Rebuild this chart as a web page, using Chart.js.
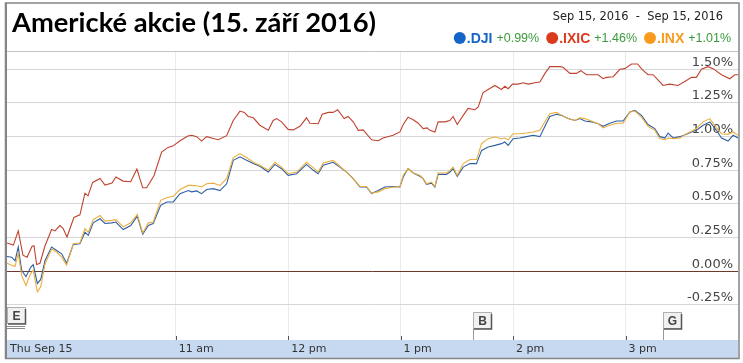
<!DOCTYPE html>
<html>
<head>
<meta charset="utf-8">
<script src="https://cdn.jsdelivr.net/npm/chart.js@4"></script>
<style>
html, body { margin: 0; padding: 0; background: #fff; }
canvas { display: block; }
</style>
</head>
<body>
<canvas id="lineChart" width="743" height="363"></canvas>
<script>
// minutes after the 9:30 open, shared by .DJI and .INX
const minutes = [
    0, 2.5, 4.3, 6, 7.8, 10.1, 12.6, 14, 16.2, 18, 20.3, 23.8, 26.5, 29.2, 31.8, 35.4, 38.9, 41.6, 43.4, 46,
    49.6, 52.3, 55.8, 58.1, 62, 66, 69.5, 72.4, 75.4, 78, 82, 85.2, 88.7, 92.3, 96.7,
    98.5, 101.2, 103.8, 106.5, 110, 113.6, 117.2, 120.7, 124.3, 127.8, 131.4, 134.9, 139.4, 142.9, 146.5,
    150, 154.5, 159.8, 163.4, 166, 168.7, 174, 177.6, 181.2, 184.7, 188.3, 191.8, 194.5,
    198, 201.6, 206, 209.6, 211.4, 214, 216.7, 220.3, 222, 223.8, 226.5, 228.3, 230, 234.5, 236.3, 238, 240.2,
    243.4, 247, 250.5, 253.2, 256.7, 260.3, 263.8, 265.6, 267.4, 270, 273.6, 277.2, 280.7, 284.3, 287, 289.6, 293.2,
    295.8, 299.4, 303, 305.6, 308.3, 311.8, 315.4, 318, 321.6, 325.2, 328.7, 332.3, 335, 338.5, 342, 345.6,
    348.3, 351, 352.7, 355.4, 359, 362.5, 365.2, 367.8, 371.4, 375, 378.5, 381.2, 384.7, 387.4, 390
];
const djiValues = [
    0.11, 0.105, 0.077, 0.18, 0.007, -0.04, 0.03, 0.05, -0.09, -0.06, 0.08, 0.18, 0.155, 0.13, 0.06, 0.20, 0.205, 0.29, 0.267, 0.36,
    0.39, 0.355, 0.36, 0.366, 0.31, 0.34, 0.41, 0.275, 0.34, 0.355, 0.49, 0.515, 0.515, 0.577, 0.60,
    0.59, 0.597, 0.577, 0.607, 0.614, 0.60, 0.65, 0.824, 0.85, 0.824, 0.80, 0.78, 0.737, 0.794, 0.762,
    0.713, 0.725, 0.794, 0.75, 0.725, 0.787, 0.81, 0.774, 0.737, 0.688, 0.626, 0.626, 0.577,
    0.60, 0.626, 0.63, 0.626, 0.70, 0.763, 0.73, 0.705, 0.688, 0.646, 0.655, 0.626, 0.72, 0.72, 0.737, 0.763, 0.705,
    0.774, 0.80, 0.80, 0.898, 0.923, 0.935, 0.948, 0.96, 0.935, 0.985, 0.99, 1.00, 1.01, 1.00, 1.077, 1.15, 1.166,
    1.158, 1.134, 1.12, 1.134, 1.116, 1.11, 1.096, 1.077, 1.10, 1.116, 1.116, 1.183, 1.195, 1.158, 1.09, 1.06,
    1.00, 0.99, 1.027, 0.99, 1.00, 1.017, 1.035, 1.047, 1.085, 1.11, 1.047, 0.99, 0.967, 1.01, 0.99
];
const inxValues = [
    0.06, 0.045, 0.035, 0.135, -0.03, -0.105, -0.017, 0.007, -0.153, -0.115, 0.055, 0.165, 0.143, 0.105, 0.045, 0.205, 0.21, 0.317, 0.29, 0.384,
    0.415, 0.373, 0.378, 0.384, 0.33, 0.36, 0.423, 0.285, 0.36, 0.366, 0.527, 0.547, 0.557, 0.607, 0.638,
    0.638, 0.635, 0.626, 0.65, 0.655, 0.638, 0.688, 0.845, 0.874, 0.845, 0.81, 0.787, 0.75, 0.81, 0.774,
    0.725, 0.737, 0.81, 0.77, 0.737, 0.805, 0.824, 0.78, 0.737, 0.688, 0.63, 0.63, 0.58,
    0.59, 0.614, 0.626, 0.626, 0.713, 0.763, 0.73, 0.713, 0.69, 0.65, 0.663, 0.63, 0.73, 0.73, 0.75, 0.774, 0.713,
    0.80, 0.83, 0.83, 0.948, 0.985, 0.997, 0.985, 0.99, 0.977, 1.022, 1.022, 1.027, 1.035, 1.047, 1.11, 1.17, 1.18,
    1.158, 1.134, 1.12, 1.14, 1.134, 1.116, 1.096, 1.065, 1.085, 1.10, 1.10, 1.183, 1.19, 1.145, 1.077, 1.047,
    0.985, 0.977, 0.99, 0.985, 0.99, 1.022, 1.04, 1.06, 1.11, 1.134, 1.065, 1.022, 1.017, 1.035, 1.01
];

const ixicMinutes = [
    0, 3.4, 6, 8.5, 10.7, 13.3, 14.4, 15.8, 17.6, 20.3, 23.8, 25.6, 28.3, 29.9, 32, 35.7, 38.9, 41.6, 43.2, 45.7,
    49.6, 52.3, 56, 58.1, 61.9, 66, 69.3, 72.4, 74.5, 78.4, 82.5, 85.9, 88.5, 92.3, 96.5,
    98.5, 101.2, 103.8, 106.5, 109.2, 112.7, 117.2, 120.7, 124.3, 126.6, 128.7, 131.4, 134.9, 139.4, 142, 143.8,
    146.5, 150, 152.7, 156.3, 159.8, 161.6, 166, 168.2, 171.4, 174, 176.4, 179.9, 182, 184.7, 187.4, 190, 194.5,
    198, 200.7, 206, 209.6, 211.4, 214, 216.7, 219.4, 222, 224.2, 225.6, 228.3, 230, 233.6, 236.3, 238, 240.2,
    243.4, 246, 249.6, 251.4, 254, 256.7, 260.3, 263.8, 265.6, 267.4, 269.7, 272.7, 275.4, 278, 281.6, 284.3,
    287, 289.6, 294.9,
    296.7, 300.3, 303.8, 306.1, 309.2, 315.4, 318, 319.8, 323.4, 327, 329.6, 333.2, 336.4, 338.8, 342, 344.7,
    347.4, 350, 353.6, 358, 361.6, 365.2, 367.8, 370.5, 374, 376.7, 381.2, 385.6, 388.3, 390
];
const ixicValues = [
    0.21, 0.195, 0.30, 0.12, 0.105, 0.185, 0.19, 0.05, 0.06, 0.19, 0.31, 0.30, 0.34, 0.32, 0.255, 0.40, 0.42, 0.58, 0.56, 0.66,
    0.69, 0.64, 0.655, 0.70, 0.67, 0.665, 0.76, 0.62, 0.62, 0.71, 0.885, 0.92, 0.93, 0.97, 1.005,
    1.01, 1.00, 0.967, 1.00, 0.99, 0.977, 1.007, 1.12, 1.19, 1.18, 1.15, 1.14, 1.085, 1.047, 1.12, 1.134,
    1.11, 1.054, 1.05, 1.077, 1.14, 1.10, 1.096, 1.166, 1.18, 1.18, 1.20, 1.134, 1.15, 1.11, 1.047, 1.05, 0.977,
    0.97, 0.99, 1.01, 1.035, 1.09, 1.145, 1.126, 1.10, 1.06, 1.065, 1.047, 1.035, 1.11, 1.11, 1.12, 1.15, 1.09,
    1.158, 1.21, 1.20, 1.22, 1.327, 1.35, 1.38, 1.35, 1.374, 1.356, 1.39, 1.39, 1.40, 1.39, 1.40, 1.405,
    1.47, 1.52, 1.52,
    1.515, 1.47, 1.47, 1.49, 1.46, 1.46, 1.43, 1.44, 1.445, 1.50, 1.505, 1.54, 1.54, 1.50, 1.46, 1.46,
    1.42, 1.38, 1.39, 1.38, 1.41, 1.44, 1.44, 1.50, 1.52, 1.505, 1.46, 1.43, 1.46, 1.46
];

const tickMinutes = [0, 90, 150, 210, 270, 330];
const tickLabels = ['Thu Sep 15', '11 am', '12 pm', '1 pm', '2 pm', '3 pm'];
const yTicks = [-0.25, 0, 0.25, 0.5, 0.75, 1, 1.25, 1.5];

const legendNames = ['.DJI', '.IXIC', '.INX'];
const legendChanges = ['+0.99%', '+1.46%', '+1.01%'];

// news flags along the bottom of the plot
const flagLetters = ['E', 'B', 'G'];
const flagMinutes = [0, 248.5, 350];
const flagCounts = [3, 1, 1];

const titleText = 'Americké akcie (15. září 2016)';
const rangeText = 'Sep 15, 2016  -  Sep 15, 2016';

const lineColors = ['#2f5fa3', '#c04230', '#eaae3e'];
const dotColors = ['#1565c8', '#db3a1c', '#f89b1c'];

const ctx = document.getElementById('lineChart').getContext('2d');

function toPoints(xs, ys) {
    return xs.map((x, i) => ({ x: x, y: ys[i] }));
}

function fitFont(c, text, weight, family, width, guess) {
    c.font = weight + ' ' + guess + 'px ' + family;
    const size = guess * width / c.measureText(text).width;
    return weight + ' ' + size.toFixed(1) + 'px ' + family;
}

function drawFlag(c, x, top, letter, stack) {
    const w = 19, h = 17;
    c.strokeStyle = '#8c8c8c';
    c.lineWidth = 1;
    for (let k = stack - 1; k > 0; k--) {
        c.beginPath();
        c.moveTo(x, top + h + 2 * k + 0.5);
        c.lineTo(x + w - 1, top + h + 2 * k + 0.5);
        c.stroke();
    }
    c.fillStyle = '#f1f1f1';
    c.fillRect(x, top, w, h);
    c.strokeStyle = '#b0b0b0';
    c.strokeRect(x + 0.5, top + 0.5, w - 1, h - 1);
    c.strokeStyle = '#555';
    c.lineWidth = 1.5;
    c.beginPath();
    c.moveTo(x + w - 0.5, top + 2);
    c.lineTo(x + w - 0.5, top + h);
    c.lineTo(x + 1, top + h);
    c.stroke();
    c.fillStyle = '#444';
    c.font = 'bold 12px "Liberation Sans"';
    c.textAlign = 'center';
    c.textBaseline = 'middle';
    c.fillText(letter, x + w / 2, top + h / 2 + 1);
}

const decorations = {
    id: 'decorations',
    beforeDraw(chart) {
        const c = chart.ctx;
        c.save();
        c.fillStyle = '#fff';
        c.fillRect(0, 0, chart.width, chart.height);
        c.restore();
    },
    afterDraw(chart) {
        const c = chart.ctx;
        const area = chart.chartArea;
        const xScale = chart.scales.x;
        c.save();

        // top edge of the plot
        c.strokeStyle = '#c4c4c4';
        c.lineWidth = 1;
        c.beginPath();
        c.moveTo(area.left, area.top + 0.5);
        c.lineTo(area.right, area.top + 0.5);
        c.stroke();

        // hour tick marks just above the time band
        c.strokeStyle = '#555';
        tickMinutes.forEach(m => {
            if (m === 0) return;
            const x = Math.round(xScale.getPixelForValue(m)) + 0.5;
            c.beginPath();
            c.moveTo(x, area.bottom - 4);
            c.lineTo(x, area.bottom);
            c.stroke();
        });

        // flags
        flagMinutes.forEach((m, i) => {
            const x = Math.round(xScale.getPixelForValue(m));
            const top = flagCounts[i] > 1 ? area.bottom - 33 : area.bottom - 28;
            if (flagCounts[i] === 1) {
                c.strokeStyle = '#999';
                c.lineWidth = 1;
                c.beginPath();
                c.moveTo(x + 0.5, top + 17);
                c.lineTo(x + 0.5, area.bottom);
                c.stroke();
            }
            drawFlag(c, x, top, flagLetters[i], flagCounts[i]);
        });

        // frame
        c.strokeStyle = '#858585';
        c.lineWidth = 1.5;
        c.strokeRect(5.5, 3, 733.5, 355.5);
        c.fillStyle = '#858585';
        c.fillRect(5, 3, 2, 356);

        // title
        c.fillStyle = '#000';
        c.textAlign = 'left';
        c.textBaseline = 'alphabetic';
        c.font = fitFont(c, titleText, 'bold', 'Lato', 364, 26);
        c.fillText(titleText, 12, 32);

        // date range
        c.fillStyle = '#222';
        c.textAlign = 'right';
        c.textBaseline = 'middle';
        c.font = fitFont(c, rangeText, 'normal', '"DejaVu Sans"', 171, 11);
        c.fillText(rangeText, 723, 17);

        // legend with day changes
        c.textAlign = 'left';
        const nameFont = 'bold 14px "Liberation Sans"';
        const changeFont = '12.5px "Liberation Sans"';
        let total = 0;
        legendNames.forEach((name, i) => {
            c.font = nameFont;
            total += 13 + c.measureText(name).width + 4;
            c.font = changeFont;
            total += c.measureText(legendChanges[i]).width + (i < legendNames.length - 1 ? 7 : 0);
        });
        let x = 731 - total;
        const y = 38;
        legendNames.forEach((name, i) => {
            c.fillStyle = dotColors[i];
            c.beginPath();
            c.arc(x + 6, y, 6, 0, Math.PI * 2);
            c.fill();
            x += 13;
            c.font = nameFont;
            c.fillText(name, x, y + 1);
            x += c.measureText(name).width + 4;
            c.font = changeFont;
            c.fillStyle = '#3b9a3b';
            c.fillText(legendChanges[i], x, y + 1);
            x += c.measureText(legendChanges[i]).width + 7;
        });

        c.restore();
    }
};

const chart = new Chart(ctx, {
    type: 'line',
    data: {
        datasets: [{
            label: legendNames[0],
            data: toPoints(minutes, djiValues),
            borderColor: lineColors[0],
            order: 2
        }, {
            label: legendNames[1],
            data: toPoints(ixicMinutes, ixicValues),
            borderColor: lineColors[1],
            order: 3
        }, {
            label: legendNames[2],
            data: toPoints(minutes, inxValues),
            borderColor: lineColors[2],
            order: 1
        }]
    },
    options: {
        responsive: false,
        animation: false,
        layout: { padding: { left: 7, right: 5, top: 51, bottom: 5 } },
        elements: {
            line: { borderWidth: 1.1, tension: 0, fill: false },
            point: { radius: 0 }
        },
        plugins: {
            legend: { display: false },
            tooltip: { enabled: false }
        },
        scales: {
            x: {
                type: 'linear',
                min: 0,
                max: 390,
                afterBuildTicks: s => { s.ticks = tickMinutes.map(v => ({ value: v })); },
                afterFit: s => { s.height = 18; },
                backgroundColor: '#c6d9f1',
                border: { display: false },
                grid: {
                    color: c => (c.tick && c.tick.value === 0) ? 'rgba(0,0,0,0)' : '#ebebeb',
                    drawTicks: false
                },
                ticks: {
                    align: 'start',
                    labelOffset: 3,
                    padding: 3,
                    autoSkip: false,
                    maxRotation: 0,
                    color: '#333',
                    font: { family: 'DejaVu Sans', size: 11 },
                    callback: (v, i) => tickLabels[i]
                }
            },
            y: {
                position: 'right',
                min: -0.51,
                max: 1.636,
                afterBuildTicks: s => { s.ticks = yTicks.map(v => ({ value: v })); },
                afterFit: s => { s.width = 0; },
                border: { display: false },
                grid: {
                    color: c => (c.tick && c.tick.value === 0) ? '#6b3a2c' : '#d6d6d6',
                    drawTicks: false
                },
                ticks: {
                    mirror: true,
                    padding: -5,
                    labelOffset: -7,
                    color: '#444',
                    font: { family: 'DejaVu Sans', size: 13 },
                    callback: v => v.toFixed(2) + '%'
                }
            }
        }
    },
    plugins: [decorations]
});
</script>
</body>
</html>
